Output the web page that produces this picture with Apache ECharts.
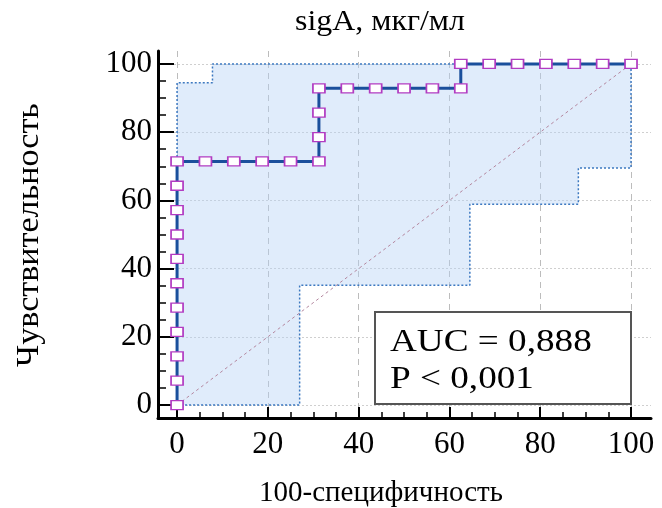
<!DOCTYPE html>
<html>
<head>
<meta charset="utf-8">
<script src="https://cdn.jsdelivr.net/npm/echarts@6/dist/echarts.min.js"></script>
<style>html,body{margin:0;padding:0;background:#fff}#c{width:662px;height:508px}</style>
</head>
<body>
<div id="c"></div>
<script>
// ROC curve points (100-specificity, sensitivity)
var rocX = [0,0,0,0,0,0,0,0,0,0,0, 6.25,12.5,18.75,25,31.25, 31.25,31.25,31.25, 37.5,43.75,50,56.25,62.5, 62.5, 68.75,75,81.25,87.5,93.75,100];
var rocY = [0,7.14,14.29,21.43,28.57,35.71,42.86,50,57.14,64.29,71.43, 71.43,71.43,71.43,71.43,71.43, 78.57,85.71,92.86, 92.86,92.86,92.86,92.86,92.86, 100, 100,100,100,100,100,100];
// confidence band bounds
var upperX = [0,0,7.8,7.8,100];
var upperY = [0,94.5,94.5,100,100];
var lowerX = [0,27,27,64.5,64.5,88.4,88.4,100,100];
var lowerY = [0,0,35.1,35.1,58.9,58.9,69.5,69.5,100];
// reference diagonal
var diagX = [0,100];
var diagY = [0,100];
// ticks
var xMajor = [0,20,40,60,80,100];
var xMinor = [5,10,15,25,30,35,45,50,55,65,70,75,85,90,95];
var yMajor = [0,20,40,60,80,100];
var yMinor = [5,10,15,25,30,35,45,50,55,65,70,75,85,90,95];
var titleText = 'sigA, мкг/мл';
var xName = '100-специфичность';
var yName = 'Чувствительность';
var aucLines = ['AUC = 0,888', 'P < 0,001'];

function zip(a, b){ return a.map(function(v,i){ return [v, b[i]]; }); }
var upper = zip(upperX, upperY);
var lower = zip(lowerX, lowerY);
var bandPoly = upper.concat(lower.slice().reverse());

var FONT = 'Liberation Serif';
var chart = echarts.init(document.getElementById('c'));
var xMin = -4.2, xMax = 104.4, yMin = -3.8, yMax = 103.8;

function mkAxes(minV, maxV, major, minor, isX){
  var main = {
    type:'value', min:minV, max:maxV, position: isX ? 'bottom' : 'left',
    axisLine:{onZero:false, lineStyle:{color:'#000', width:3}},
    axisTick:{inside:true, length: isX ? 11 : 16, customValues: major, lineStyle:{color:'#000', width:2}},
    axisLabel:{customValues: major, color:'#000', fontFamily:FONT, fontSize:31, margin: isX ? 11 : 6},
    splitLine:{show:true, lineStyle: isX ? {color:'#bcbcbc', type:[6,5], width:1} : {color:'#cfcfcf', type:[2,2], width:1}}
  };
  var minorAx = {
    type:'value', min:minV, max:maxV, position: isX ? 'bottom' : 'left',
    axisLine:{show:false, onZero:false},
    axisTick:{inside:true, length: isX ? 6 : 8, customValues: minor, lineStyle:{color:'#000', width:1.5}},
    axisLabel:{show:false},
    splitLine:{show:false}
  };
  return [main, minorAx];
}

chart.setOption({
  animation:false,
  grid:{left:158, right:11, top:51, bottom:90, containLabel:false},
  xAxis: mkAxes(xMin, xMax, xMajor, xMinor, true),
  yAxis: mkAxes(yMin, yMax, yMajor, yMinor, false),
  series:[
    {
      type:'custom', xAxisIndex:0, yAxisIndex:0, z:1, silent:true,
      data:[[0,0]],
      renderItem:function(params, api){
        var pts = bandPoly.map(function(p){ return api.coord(p); });
        return {type:'polygon', shape:{points:pts}, style:{fill:'rgba(180,210,245,0.42)'}};
      }
    },
    {
      type:'line', xAxisIndex:0, yAxisIndex:0, z:2, symbol:'none', silent:true,
      data: zip(diagX, diagY),
      lineStyle:{color:'#b3869e', width:1, type:[3,3]}
    },
    {
      type:'line', xAxisIndex:0, yAxisIndex:0, z:3, symbol:'none', silent:true,
      data: upper, lineStyle:{color:'#3c78c0', width:1.5, type:[2,2]}
    },
    {
      type:'line', xAxisIndex:0, yAxisIndex:0, z:3, symbol:'none', silent:true,
      data: lower, lineStyle:{color:'#3c78c0', width:1.5, type:[2,2]}
    },
    {
      type:'line', xAxisIndex:0, yAxisIndex:0, z:5,
      data: zip(rocX, rocY),
      lineStyle:{color:'#1a4f9c', width:3},
      symbol:'rect', symbolSize:[12,9],
      itemStyle:{color:'#ffffff', borderColor:'#b23cc2', borderWidth:1.5}
    }
  ],
  graphic:[
    {type:'text', x:380, y:22, scaleX:1.1, style:{text:titleText, fontFamily:FONT, fontSize:29, fill:'#000', align:'center', verticalAlign:'middle'}},
    {type:'text', x:381, y:493, scaleX:1.0, style:{text:xName, fontFamily:FONT, fontSize:29, fill:'#000', align:'center', verticalAlign:'middle'}},
    {type:'text', x:30, y:235, rotation:Math.PI/2, scaleX:1.1, style:{text:yName, fontFamily:FONT, fontSize:31, fill:'#000', align:'center', verticalAlign:'middle'}},
    {type:'rect', x:375, y:312, shape:{width:256, height:92}, style:{fill:'#fff', stroke:'#555', lineWidth:2}, z:100},
    {type:'text', x:390, y:343, scaleX:1.2, style:{text:aucLines[0], fontFamily:FONT, fontSize:31, fill:'#000', align:'left', verticalAlign:'middle'}, z:101},
    {type:'text', x:390, y:380, scaleX:1.2, style:{text:aucLines[1], fontFamily:FONT, fontSize:31, fill:'#000', align:'left', verticalAlign:'middle'}, z:101}
  ]
});
</script>
</body>
</html>
